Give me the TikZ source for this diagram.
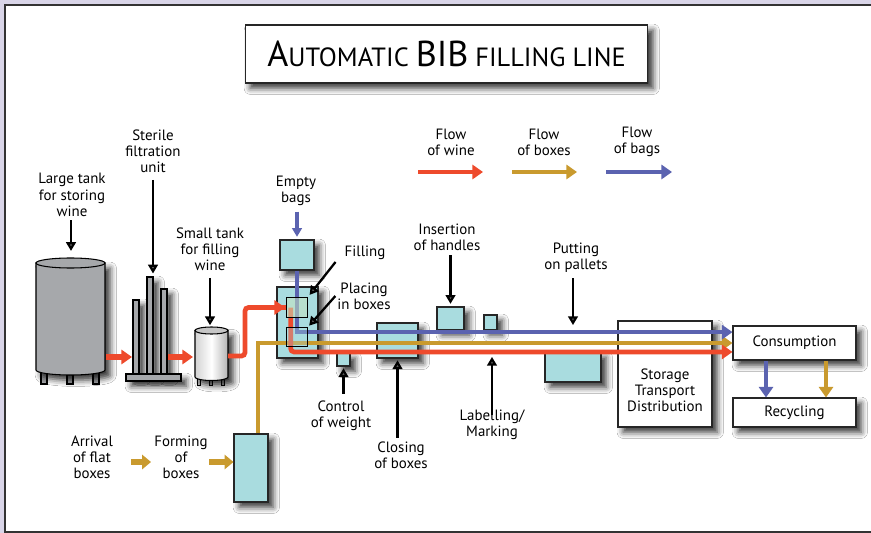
\documentclass[tikz,border=0pt]{standalone}
\usepackage{fontspec}
\setmainfont{PT Sans}
\usetikzlibrary{arrows.meta,shadows.blur,positioning,calc}
\definecolor{winered}{HTML}{EE4A2C}
\definecolor{boxgold}{HTML}{C99A2E}
\definecolor{bagblue}{HTML}{5B63B0}
\definecolor{machine}{HTML}{A9DCDF}
\definecolor{tankgray}{HTML}{A6A8AB}
\definecolor{framelilac}{HTML}{D9D5E8}
\definecolor{fillgreen}{HTML}{C5E3C0}
\tikzset{
  shd/.style={blur shadow={shadow xshift=3pt,shadow yshift=-3pt,shadow blur radius=3.5pt,shadow opacity=80}},
  mach/.style={draw=black!85,fill=machine,shd,inner sep=0pt,line width=0.6pt},
  plainbox/.style={draw=black!85,fill=white,shd,inner sep=0pt,line width=0.6pt,align=center,font=\fontsize{8.5}{9.2}\selectfont},
  lbl/.style={align=center,font=\fontsize{8.5}{9.2}\selectfont,inner sep=1pt},
  pointer/.style={-{Triangle[length=5pt,width=5.5pt]},line width=1.3pt},
  flow/.style={line width=2.7pt,-{Triangle[length=6pt,width=8pt]}},
  pipe/.style={line width=2.7pt},
}
\begin{document}
\begin{tikzpicture}[x=0.02cm,y=-0.02cm]
\useasboundingbox (0,0) rectangle (871,533);
%Frame
\fill[framelilac] (0,0) rectangle (871,533);
\fill[white] (5,5) rectangle (871,532);
\draw[black!80,line width=1.2pt] (871,5) -- (5,5) -- (5,532) -- (871,532);
%Title
\node[plainbox,minimum width=8.06cm,minimum height=1.16cm,font=\fontsize{15}{17}\selectfont] (title) at (446.5,54)
  {{\fontsize{20.5}{20}\selectfont A}UTOMATIC {\fontsize{20.5}{20}\selectfont BIB} FILLING LINE};

%Large tank
\foreach \lx in {41,67,93}
  \draw[fill=tankgray,line width=0.6pt] (\lx,366) rectangle (\lx+6,384);
\draw[fill=tankgray,line width=0.6pt,shd] (36,263) -- (36,370) arc (180:0:34.5 and 5) -- (105,263) -- cycle;
\draw[fill=tankgray,line width=0.6pt] (70.5,263) ellipse (34.5 and 5);
\coordinate (tankTop) at (71,258);
%Filtration unit
\draw[fill=tankgray,line width=0.6pt,shd] (133,300) rectangle (139,374);
\draw[fill=tankgray,line width=0.6pt,shd] (147,277) rectangle (153,374);
\draw[fill=tankgray,line width=0.6pt,shd] (161,289) rectangle (167,374);
\draw[fill=tankgray,line width=0.6pt,shd] (126,374) rectangle (181,381);
\coordinate (filtTop) at (153,277);
%Small tank
\foreach \lx in {197,209,221}
  \draw[fill=gray!40,line width=0.5pt] (\lx,374) rectangle (\lx+3,385);
\draw[left color=gray!35,right color=gray!60,middle color=white,line width=0.6pt,shd]
  (195,330.5) -- (195,377) arc (180:0:16.5 and 3.5) -- (228,330.5) -- cycle;
\draw[fill=gray!45,line width=0.6pt] (211.5,330.5) ellipse (16.5 and 3.5);
\coordinate (smallTop) at (210,327);
\coordinate (smallOut) at (228,356);

%Wine between tanks
\draw[flow,winered,line width=3pt] (106,357) -- (132,357);
\draw[flow,winered,line width=3pt] (168,357) -- (193,357);

%Machines
\node[mach,minimum width=0.82cm,minimum height=1.42cm] (filler) at (297.5,322.5) {};
\node[mach,minimum width=0.68cm,minimum height=0.6cm] (bags) at (297,255) {};
\node[mach,minimum width=0.26cm,minimum height=0.26cm] (weight) at (343.5,359.5) {};
\node[mach,minimum width=0.82cm,minimum height=0.7cm] (closing) at (397.5,340.5) {};
\node[mach,minimum width=0.54cm,minimum height=0.46cm] (handles) at (450.5,318.5) {};
\node[mach,minimum width=0.26cm,minimum height=0.3cm] (marking) at (490.5,322.5) {};
\node[mach,minimum width=1.12cm,minimum height=0.6cm] (pallets) at (573,367) {};
\node[mach,minimum width=0.68cm,minimum height=1.36cm] (forming) at (251,468) {};
\node[plainbox,minimum width=1.88cm,minimum height=2.12cm] (storage) at (665,374) {};
\node[lbl] at (665,390) {Storage\\Transport\\Distribution};
\node[plainbox,minimum width=2.46cm,minimum height=0.68cm] (cons) at (794.5,343) {Consumption};
\node[plainbox,minimum width=2.46cm,minimum height=0.58cm] (recyc) at (794.5,412.5) {Recycling};
\node[inner sep=0pt,minimum width=0.4cm,minimum height=0.38cm] (fillsq) at (297,307.5) {};
\node[inner sep=0pt,minimum width=0.4cm,minimum height=0.36cm] (place) at (297,337) {};

%Flows
\draw[flow,boxgold] ([xshift=0.14cm]forming.north) |- (cons.west);
\draw[pipe,winered,rounded corners=2pt] (smallOut) -- ++(17,0) |- (fillsq.west);
\draw[flow,winered,shorten >=1.5pt] (fillsq.west) -- ++(1,0);
\draw[flow,winered,rounded corners=2pt] ([xshift=0.08cm]fillsq.west) |- ([yshift=-5.1pt]cons.west);
\draw[flow,bagblue] (bags.south) |- ([yshift=6.2pt]cons.west);
\draw[flow,bagblue] ([xshift=-0.57cm]cons.south) -- ([xshift=-0.57cm]recyc.north);
\draw[flow,boxgold] ([xshift=0.63cm]cons.south) -- ([xshift=0.63cm]recyc.north);
%Filling and placing
\draw[line width=0.6pt,fill=fillgreen,fill opacity=0.55] (fillsq.south west) rectangle (fillsq.north east);
\draw[line width=0.6pt,fill=machine,fill opacity=0.35] (place.south west) rectangle (place.north east);

%Labels
\node[lbl] (lTank) at (72,195) {Large tank\\for storing\\wine};
\node[lbl] (lFilt) at (153,151) {Sterile\\filtration\\unit};
\node[lbl] (lSmall) at (210,249) {Small tank\\for filling\\wine};
\node[lbl] (lBags) at (296,191) {Empty\\bags};
\node[lbl] (lFill) at (365,253) {Filling};
\node[lbl] (lPlace) at (364,296) {Placing\\in boxes};
\node[lbl] (lHandles) at (447,237) {Insertion\\of handles};
\node[lbl] (lPallets) at (576,258) {Putting\\on pallets};
\node[lbl] (lWeight) at (341,416) {Control\\of weight};
\node[lbl] (lClosing) at (401,455) {Closing\\of boxes};
\node[lbl] (lMarking) at (492,425) {Labelling/\\Marking};
\node[lbl] (lArrival) at (92,457) {Arrival\\of flat\\boxes};
\node[lbl] (lForming) at (181,457) {Forming\\of\\boxes};
%Pointers
\draw[pointer,shorten <=1pt,shorten >=4pt] (tankTop |- lTank.south) -- (tankTop);
\draw[pointer,shorten <=3pt,shorten >=2pt] (filtTop |- lFilt.south) -- (filtTop);
\draw[pointer,shorten <=3pt,shorten >=1pt] (smallTop |- lSmall.south) -- (smallTop);
\draw[pointer,bagblue,line width=2pt,shorten <=2pt,shorten >=1.5pt] (bags.north |- lBags.south) -- (bags.north);
\draw[pointer,shorten >=2pt] ([xshift=-4pt]lFill.south west) -- (fillsq.north east);
\draw[pointer,shorten >=1.5pt] (lPlace.west) -- (place.north east);
\draw[pointer,shorten <=1.5pt,shorten >=1.5pt] (handles.north |- lHandles.south) -- (handles.north);
\draw[pointer,shorten <=2pt,shorten >=15pt] (pallets.north |- lPallets.south) -- (pallets.north);
\draw[pointer,shorten <=3pt,shorten >=1pt] (weight.south |- lWeight.north) -- (weight.south);
\draw[pointer,shorten <=1pt,shorten >=1pt] (closing.south |- lClosing.north) -- (closing.south);
\draw[pointer,shorten <=-4pt,shorten >=15pt] (lMarking.north) -- (lMarking.north |- marking.south);
%Arrival and forming of boxes
\draw[flow,boxgold,line width=3.2pt,-{Triangle[length=5pt,width=8pt]}] (131,462) -- (151,462);
\draw[flow,boxgold,line width=3.2pt,-{Triangle[length=5pt,width=8pt]}] (209,462) -- (forming.west |- 0,462);

%Legend
\node[lbl] (legWine) at (451,142) {Flow\\of wine};
\node[lbl] (legBoxes) at (544,142) {Flow\\of boxes};
\node[lbl] (legBags) at (637,142) {Flow\\of bags};
\draw[flow,winered] (418,172) -- (483,172);
\draw[flow,boxgold] (512,172) -- (577,172);
\draw[flow,bagblue] (606,172) -- (672,172);
\end{tikzpicture}
\end{document}
